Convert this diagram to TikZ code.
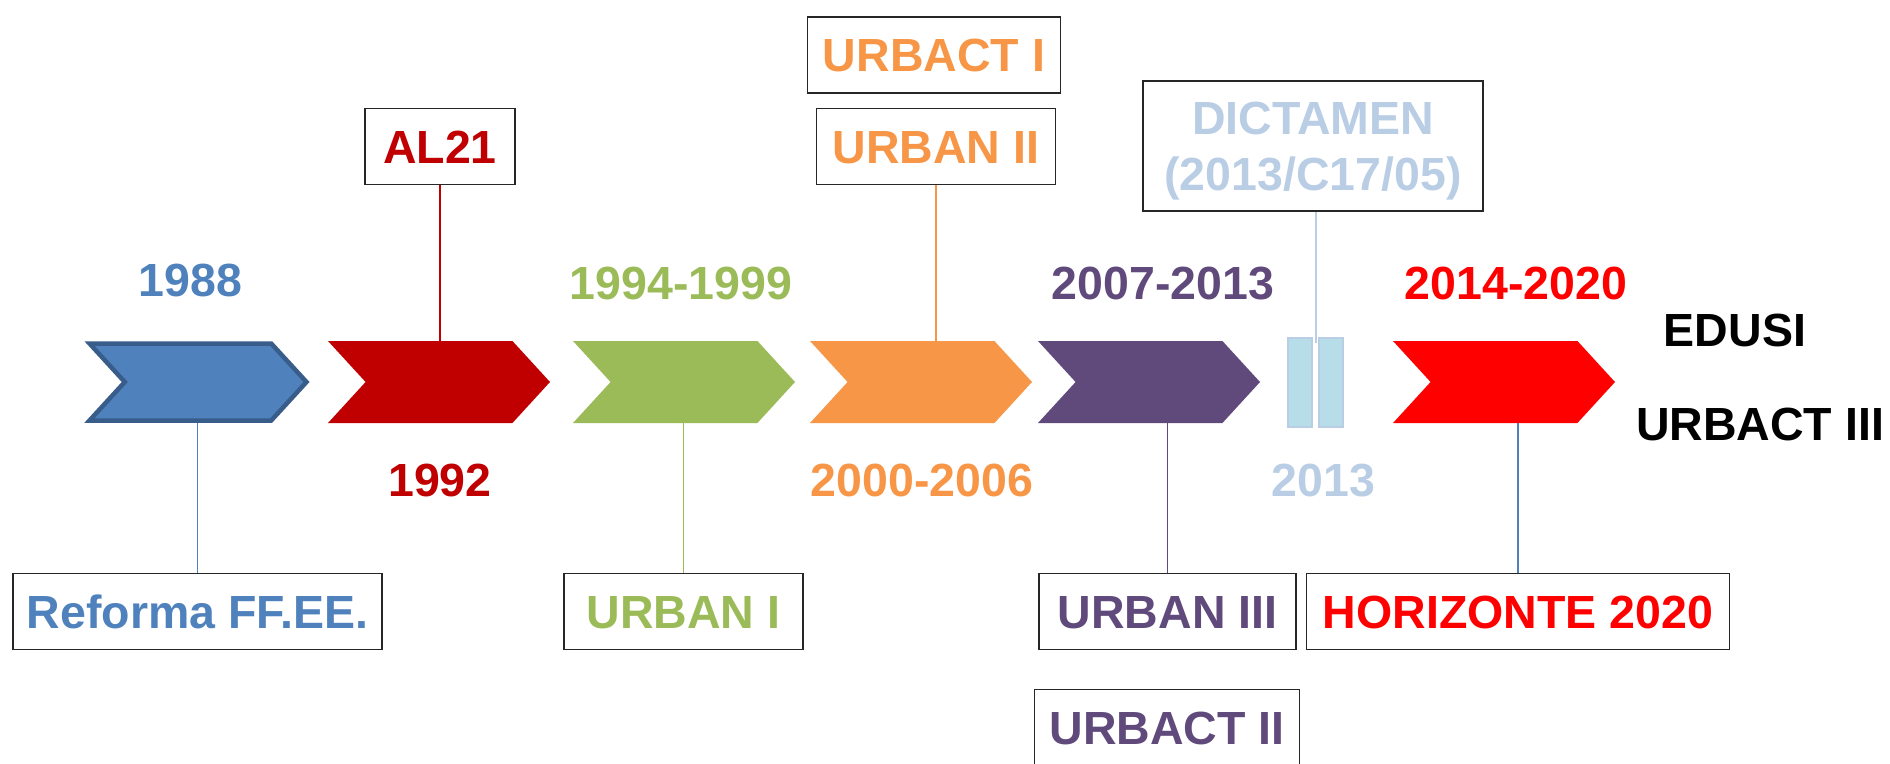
\documentclass[tikz,border=0pt]{standalone}
\usepackage{fontspec}
\setmainfont{Liberation Sans}
\usetikzlibrary{shapes.symbols}
\definecolor{cblue}{HTML}{4F81BD}
\definecolor{cblueline}{HTML}{385D8A}
\definecolor{cdred}{HTML}{C00000}
\definecolor{cgreen}{HTML}{9BBB59}
\definecolor{corange}{HTML}{F79646}
\definecolor{cpurple}{HTML}{604A7B}
\definecolor{cred}{HTML}{FF0000}
\definecolor{clight}{HTML}{B9CDE5}
\definecolor{cbarfill}{HTML}{B7DDE8}
\begin{document}
\begin{tikzpicture}[x=1pt,y=-1pt,
  font={\fontsize{46.5}{56.5}\selectfont\bfseries},
  chev/.style={signal,signal from=west,signal to=east,signal pointer angle=95,
    minimum width=222pt,minimum height=82pt,inner sep=0pt},
  bar/.style={draw=clight,fill=cbarfill,line width=2pt,minimum width=24pt,minimum height=89pt,inner sep=0pt},
  lbl/.style={text height=33.3pt,text depth=0pt,inner sep=0pt},
  box/.style={draw=black!85,line width=1.8pt,minimum height=76pt,inner sep=0pt,
    text height=33.3pt,text depth=0pt},
  link/.style={line width=1.5pt}]
\useasboundingbox (0,0) rectangle (1890,763);
% arrows of the time line
\node[chev,fill=cblue,draw=cblueline,line width=4.5pt,minimum width=217pt,minimum height=77pt] (c1988) at (198,382) {};
\node[chev,fill=cdred] (c1992) at (439,382) {};
\node[chev,fill=cgreen] (c1994) at (684,382) {};
\node[chev,fill=corange] (c2000) at (921,382) {};
\node[chev,fill=cpurple] (c2007) at (1149,382) {};
\node[bar] (bar1) at (1300,382.5) {};
\node[bar] (bar2) at (1330.5,382.5) {};
\node[chev,fill=cred] (c2014) at (1504,382) {};
% years
\node[lbl,text=cblue] (y1988) at (190.5,280) {1988};
\node[lbl,text=cgreen] (y1994) at (681,283) {1994-1999};
\node[lbl,text=cpurple] (y2007) at (1163,283) {2007-2013};
\node[lbl,text=cred] (y2014) at (1516,283) {2014-2020};
\node[lbl,text=cdred] (y1992) at (440,480) {1992};
\node[lbl,text=corange] (y2000) at (922,480) {2000-2006};
\node[lbl,text=clight] (y2013) at (1323.5,480) {2013};
\node[lbl] (edusi) at (1735,330) {EDUSI};
\node[lbl] (urbact3) at (1760,423.5) {URBACT III};
% boxes
\node[box,text=cdred,minimum width=150pt] (al21) at (440,146.5) {AL21};
\node[box,text=corange,minimum width=253pt] (urbact1) at (934,55) {URBACT I};
\node[box,text=corange,minimum width=239pt] (urban2) at (936,146.5) {URBAN II};
\node[draw=black!85,line width=1.8pt,inner sep=0pt,minimum width=340pt,minimum height=130pt,
  text height=89.8pt,text depth=0pt,align=center,text=clight] (dict) at (1313,146) {DICTAMEN\\(2013/C17/05)};
\node[box,text=cblue,minimum width=369pt] (reforma) at (197.5,611.5) {Reforma FF.EE.};
\node[box,text=cgreen,minimum width=239pt] (urban1) at (683.5,611.5) {URBAN I};
\node[box,text=cpurple,minimum width=257pt] (urban3) at (1167.5,611.5) {URBAN III};
\node[box,text=cred,minimum width=423pt] (horiz) at (1518,611.5) {HORIZONTE 2020};
\node[box,text=cpurple,minimum width=265pt] (urbact2) at (1167,727.5) {URBACT II};
% connectors
\coordinate (dictend) at (1316,343);
\draw[link,cblue] (reforma.north) -- (reforma.north |- c1988.south);
\draw[link,cdred] (al21.south) -- (al21.south |- c1992.north);
\draw[link,cgreen] (urban1.north) -- (urban1.north |- c1994.south);
\draw[link,corange] (urban2.south) -- (urban2.south |- c2000.north);
\draw[link,cpurple] (urban3.north) -- (urban3.north |- c2007.south);
\draw[link,clight] (dict.south -| dictend) -- (dictend);
\draw[link,cblue] (horiz.north) -- (horiz.north |- c2014.south);
\end{tikzpicture}
\end{document}
